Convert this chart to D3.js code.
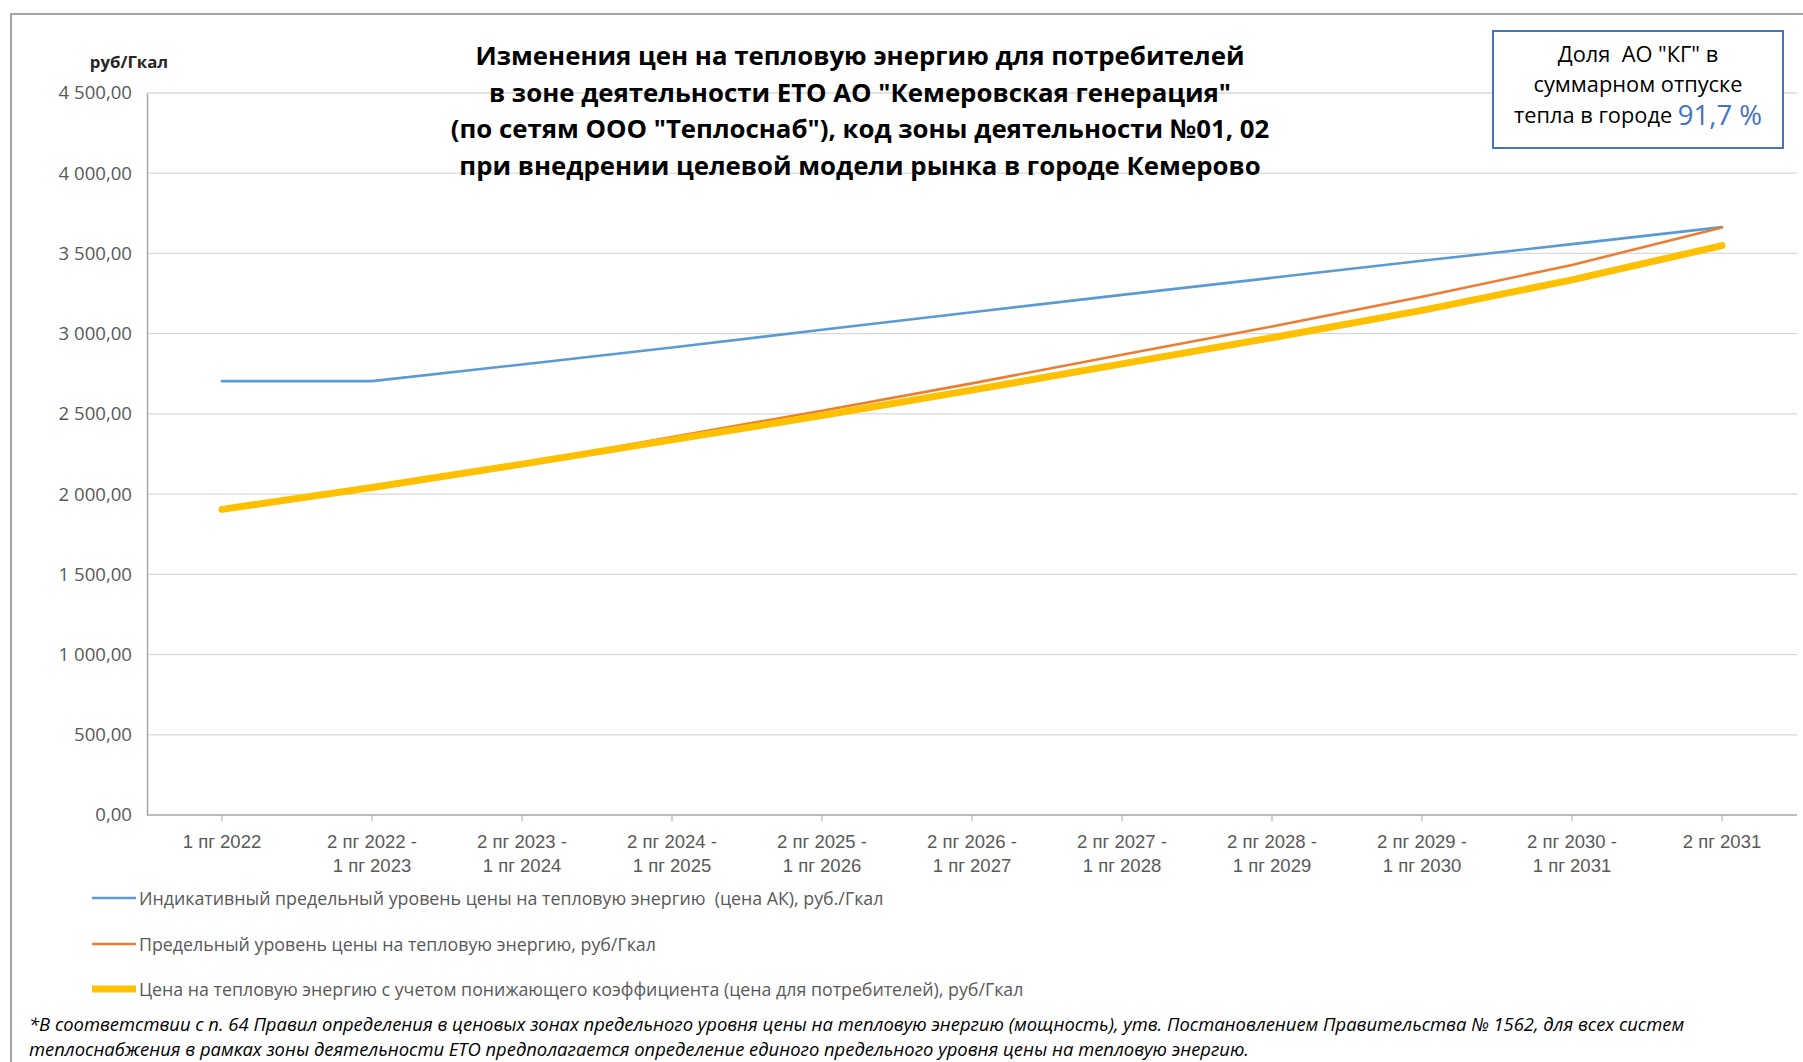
<!DOCTYPE html>
<html>
<head>
<meta charset="utf-8">
<script src="https://cdn.jsdelivr.net/npm/d3@7"></script>
<style>
  html, body { margin: 0; padding: 0; background: #fff; }
  svg { display: block; font-family: "Open Sans", "Noto Sans", sans-serif; }
  svg text { white-space: pre; }
</style>
</head>
<body>
<svg id="chart" width="1803" height="1062"></svg>
<script>
// ---- data ----
const categories = [
  "1 пг 2022",
  "2 пг 2022 -|1 пг 2023",
  "2 пг 2023 -|1 пг 2024",
  "2 пг 2024 -|1 пг 2025",
  "2 пг 2025 -|1 пг 2026",
  "2 пг 2026 -|1 пг 2027",
  "2 пг 2027 -|1 пг 2028",
  "2 пг 2028 -|1 пг 2029",
  "2 пг 2029 -|1 пг 2030",
  "2 пг 2030 -|1 пг 2031",
  "2 пг 2031"
];
const indicativePrice = [2704, 2704, 2808, 2914, 3024, 3134, 3242, 3348, 3454, 3558, 3664];
const limitPrice      = [1905, 2041, 2190, 2355, 2520, 2690, 2868, 3045, 3230, 3428, 3662];
const consumerPrice   = [1905, 2041, 2187, 2338, 2490, 2648, 2812, 2975, 3145, 3335, 3549];
const yTicks = [0, 500, 1000, 1500, 2000, 2500, 3000, 3500, 4000, 4500];
const seriesNames = [
  "Индикативный предельный уровень цены на тепловую энергию  (цена АК), руб./Гкал",
  "Предельный уровень цены на тепловую энергию, руб/Гкал",
  "Цена на тепловую энергию с учетом понижающего коэффициента (цена для потребителей), руб/Гкал"
];
const titleLines = [
  "Изменения цен на тепловую энергию для потребителей",
  "в зоне деятельности ЕТО АО \"Кемеровская генерация\"",
  "(по сетям ООО \"Теплоснаб\"), код зоны деятельности №01, 02",
  "при внедрении целевой модели рынка в городе Кемерово"
];
const shareLines = ["Доля  АО \"КГ\" в", "суммарном отпуске", "тепла в городе "];
const shareValue = "91,7 %";
const footnoteLines = [
  "*В соответствии с п. 64 Правил определения в ценовых зонах предельного уровня цены на тепловую энергию (мощность), утв. Постановлением Правительства № 1562, для всех систем",
  "теплоснабжения в рамках зоны деятельности ЕТО предполагается определение единого предельного уровня цены на тепловую энергию."
];

// ---- layout ----
const svg = d3.select("#chart");
const plot = { left: 147, right: 1797, top: 93, bottom: 815 };

// outer frame
svg.append("rect")
  .attr("x", 11).attr("y", 14).attr("width", 1820).attr("height", 1100)
  .attr("fill", "#fff").attr("stroke", "#A6A6A6").attr("stroke-width", 2);

const x = d3.scaleBand().domain(categories).range([plot.left, plot.right]).padding(0);
const y = d3.scaleLinear().domain([0, 4500]).range([plot.bottom, plot.top]);
const cx = d => x(d) + x.bandwidth() / 2;

// gridlines
svg.append("g").selectAll("line").data(yTicks.filter(t => t > 0)).join("line")
  .attr("x1", plot.left).attr("x2", plot.right)
  .attr("y1", d => y(d)).attr("y2", d => y(d))
  .attr("stroke", "#D9D9D9").attr("stroke-width", 1.3);

// y axis
const fmt = v => d3.format(",.2f")(v).replace(/,/g, " ").replace(".", ",");
const yAxis = svg.append("g").attr("transform", `translate(${plot.left},0)`)
  .call(d3.axisLeft(y).tickValues(yTicks).tickSize(0).tickPadding(15).tickFormat(fmt));
yAxis.select(".domain").attr("stroke", "#A6A6A6").attr("stroke-width", 1.5);
yAxis.selectAll("text").attr("font-size", 18.6).attr("fill", "#595959")
  .attr("font-family", "'Open Sans', sans-serif");

// x axis
const xAxis = svg.append("g").attr("transform", `translate(0,${plot.bottom})`)
  .call(d3.axisBottom(x).tickSize(6).tickFormat(""));
xAxis.select(".domain").attr("stroke", "#A6A6A6").attr("stroke-width", 1.5)
  .attr("d", `M${plot.left},0H${plot.right}`);
xAxis.selectAll(".tick line").attr("stroke", "#A6A6A6");
xAxis.selectAll(".tick").each(function(d) {
  const parts = d.split("|");
  const t = d3.select(this).append("text")
    .attr("fill", "#595959").attr("font-size", 18.5).attr("text-anchor", "middle");
  parts.forEach((p, i) => {
    t.append("tspan").attr("x", 0).attr("y", 26 + i * 24).attr("dominant-baseline", "central").text(p);
  });
});

// lines
const series = [
  { values: indicativePrice, color: "#5B9BD5", width: 2.6 },
  { values: limitPrice, color: "#ED7D31", width: 2.6 },
  { values: consumerPrice, color: "#FFC000", width: 7 }
];
const line = d3.line().x((d, i) => cx(categories[i])).y(d => y(d));
svg.append("g").selectAll("path").data(series).join("path")
  .attr("d", s => line(s.values))
  .attr("fill", "none")
  .attr("stroke", s => s.color)
  .attr("stroke-width", s => s.width)
  .attr("stroke-linecap", "round").attr("stroke-linejoin", "round");

// unit label
svg.append("text").attr("x", 129).attr("y", 61).attr("text-anchor", "middle")
  .attr("dominant-baseline", "central").attr("font-weight", "bold")
  .attr("font-size", 16.8).attr("fill", "#262626").text("руб/Гкал");

// title
const title = svg.append("text").attr("text-anchor", "middle")
  .attr("font-weight", "bold").attr("font-size", 25.8).attr("fill", "#000");
titleLines.forEach((l, i) => {
  title.append("tspan").attr("x", 860).attr("y", 55 + i * 36.5)
    .attr("dominant-baseline", "central").text(l);
});

// share box
svg.append("rect").attr("x", 1493).attr("y", 31).attr("width", 290).attr("height", 117)
  .attr("fill", "#fff").attr("stroke", "#4472C4").attr("stroke-width", 2);
const share = svg.append("text").attr("text-anchor", "middle").attr("font-size", 21.8).attr("fill", "#000");
shareLines.forEach((l, i) => {
  const ts = share.append("tspan").attr("x", 1638).attr("y", 53 + i * 30.5)
    .attr("dominant-baseline", "central").text(l);
  if (i === shareLines.length - 1) {
    ts.attr("x", 1638);
    share.append("tspan").attr("font-size", 27.5).attr("fill", "#4472C4")
      .attr("dominant-baseline", "central").text(shareValue);
  }
});

// legend
const legend = svg.append("g");
series.forEach((s, i) => {
  const ly = [898, 944, 989][i];
  legend.append("line").attr("x1", 92).attr("x2", 136).attr("y1", ly).attr("y2", ly)
    .attr("stroke", s.color).attr("stroke-width", s.width);
  legend.append("text").attr("x", 139).attr("y", ly).attr("dominant-baseline", "central")
    .attr("font-size", 17.8).attr("fill", "#595959").text(seriesNames[i]);
});

// footnote
const foot = svg.append("text").attr("font-style", "italic").attr("font-size", 18.4).attr("fill", "#000");
footnoteLines.forEach((l, i) => {
  foot.append("tspan").attr("x", 29).attr("y", 1023 + i * 25)
    .attr("dominant-baseline", "central").text(l);
});
</script>
</body>
</html>
